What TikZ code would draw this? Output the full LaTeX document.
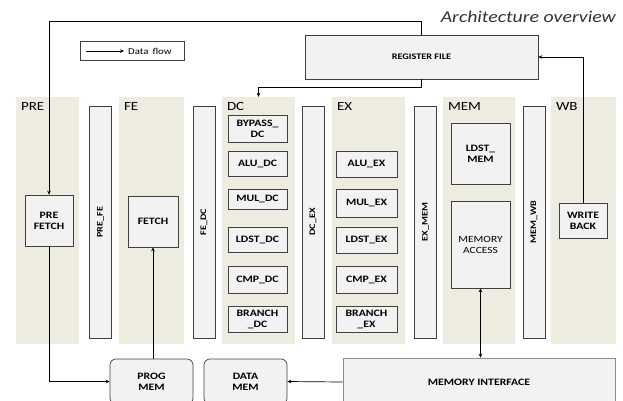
\documentclass[tikz,border=0pt]{standalone}
\usepackage{fontspec}
\setmainfont[FakeStretch=1.2]{Carlito}
\usetikzlibrary{arrows.meta}
\definecolor{archTan}{HTML}{EEECE1}
\definecolor{archBox}{HTML}{F2F2F2}
\definecolor{archLine}{HTML}{404040}
\tikzset{
  %% stage bands and their titles
  bande/.style     = {fill=archTan, draw=none, inner sep=0pt},
  titreEtage/.style= {anchor=north west, inner sep=0pt, font=\fontsize{12.5}{13}\selectfont},
  %% pipeline registers and units
  registre/.style  = {fill=archBox, draw=archLine, line width=0.6pt, inner sep=0pt,
                      font=\bfseries\fontsize{8.5}{9}\selectfont},
  unite/.style     = {fill=archBox, draw=archLine, line width=0.7pt, inner sep=1pt,
                      align=center, font=\bfseries\fontsize{9.8}{11}\selectfont},
  uniteMem/.style  = {unite, rounded corners=6pt},
  %% connectors
  flux/.style      = {-{Stealth[length=4pt, width=3.6pt]}, line width=0.7pt},
}
\begin{document}
\begin{tikzpicture}[x=1pt, y=-1pt]
\useasboundingbox (0,0) rectangle (623,400);
\clip (0,0) rectangle (623,400);

%% stage bands
\foreach \n/\x/\w/\t in {pre/47.5/63/PRE, fe/151.5/65/FE, dc/258.5/73/DC,
                         ex/368.5/73/EX, mem/479/72/MEM, wb/583.5/65/WB}{
  \node[bande, minimum width=\w pt, minimum height=247pt] (\n) at (\x, 220.5) {};
  \node[titreEtage] (\n Lbl) at ([xshift=5pt, yshift=-5pt]\n.north west) {\t};
}

%% pipeline registers
\foreach \n/\x/\t in {prefe/100.5/PRE\_FE, fedc/204/FE\_DC, dcex/313/DC\_EX,
                      exmem/425.5/EX\_MEM, memwb/534/MEM\_WB}
  \node[registre, rotate=90, minimum width=232pt, minimum height=22pt] (\n) at (\x, 222) {\t};

%% decode units
\foreach \n/\y/\h/\t in {bypassdc/128.5/27/{BYPASS\_\\DC}, aludc/163.5/25/ALU\_DC,
                         muldc/199/20/MUL\_DC, ldstdc/239.5/25/LDST\_DC,
                         cmpdc/279.5/27/CMP\_DC, branchdc/319/26/{BRANCH\\\_DC}}
  \node[unite, minimum width=59pt, minimum height=\h pt] (\n) at (257.5, \y) {\t};

%% execute units
\foreach \n/\y/\h/\t in {aluex/164/26/ALU\_EX, mulex/203/28/MUL\_EX,
                         ldstex/240/26/LDST\_EX, cmpex/279.5/27/CMP\_EX,
                         branchex/319/26/{BRANCH\\\_EX}}
  \node[unite, minimum width=61pt, minimum height=\h pt] (\n) at (366.5, \y) {\t};

%% memory, write back, fetch
\node[unite, minimum width=59pt, minimum height=61pt] (ldstmem) at (480.5, 153.5) {LDST\_\\MEM};
\node[unite, minimum width=59pt, minimum height=87pt, font=\fontsize{9.5}{11}\selectfont]
     (memaccess) at (480.5, 244.5) {MEMORY\\ACCESS};
\node[unite, minimum width=48pt, minimum height=35pt] (writeback) at (583, 220.5) {WRITE\\BACK};
\node[unite, minimum width=48pt, minimum height=51pt] (prefetch) at (49, 220.5) {PRE\\FETCH};
\node[unite, minimum width=50pt, minimum height=51pt] (fetch) at (153, 221.5) {FETCH};

%% register file, memories
\node[unite, minimum width=233pt, minimum height=44pt, font=\bfseries\fontsize{8.5}{9}\selectfont]
     (regfile) at (421.5, 57) {REGISTER FILE};
\node[uniteMem, minimum width=83pt, minimum height=45pt] (progmem) at (151.5, 381.5) {PROG\\MEM};
\node[uniteMem, minimum width=83pt, minimum height=45pt] (datamem) at (245.5, 381.5) {DATA\\MEM};
\node[unite, draw=archLine!60, minimum width=272pt, minimum height=48pt] (memif) at (479, 382)
     {MEMORY INTERFACE};

%% title and legend
\node[anchor=east, inner sep=0pt, font=\itshape\fontsize{16.5}{17}\selectfont, text=black!80]
     (titre) at (616, 17) {Architecture overview};
\node[draw=archLine, line width=0.6pt, minimum width=104pt, minimum height=19pt] (legende)
     at (132, 50.5) {};
\coordinate (legDebut) at (86, 51);
\node[anchor=west, inner sep=0pt, font=\fontsize{9}{9}\selectfont] (legTexte) at (128, 51) {Data\, flow};
\draw[flux, shorten >=4pt] (legDebut) -- (legTexte.west);

%% data flow
\draw[flux] (regfile.north) -- ++(0,-13) -| (prefetch.north);
\draw[flux] (regfile.south) -- ++(0,8) -| (dc.north);
\draw[flux] (writeback.north) |- (regfile.east);
\draw[flux] (prefetch.south) |- (progmem.west);
\draw[flux] (progmem.north -| fetch.south) -- (fetch.south);
\draw[flux] (memif.west) -- (datamem.east);
\draw[flux, {Stealth[length=4pt, width=3.6pt]}-{Stealth[length=4pt, width=3.6pt]}]
     (memaccess.south) -- (memaccess.south |- memif.north);

\end{tikzpicture}
\end{document}
